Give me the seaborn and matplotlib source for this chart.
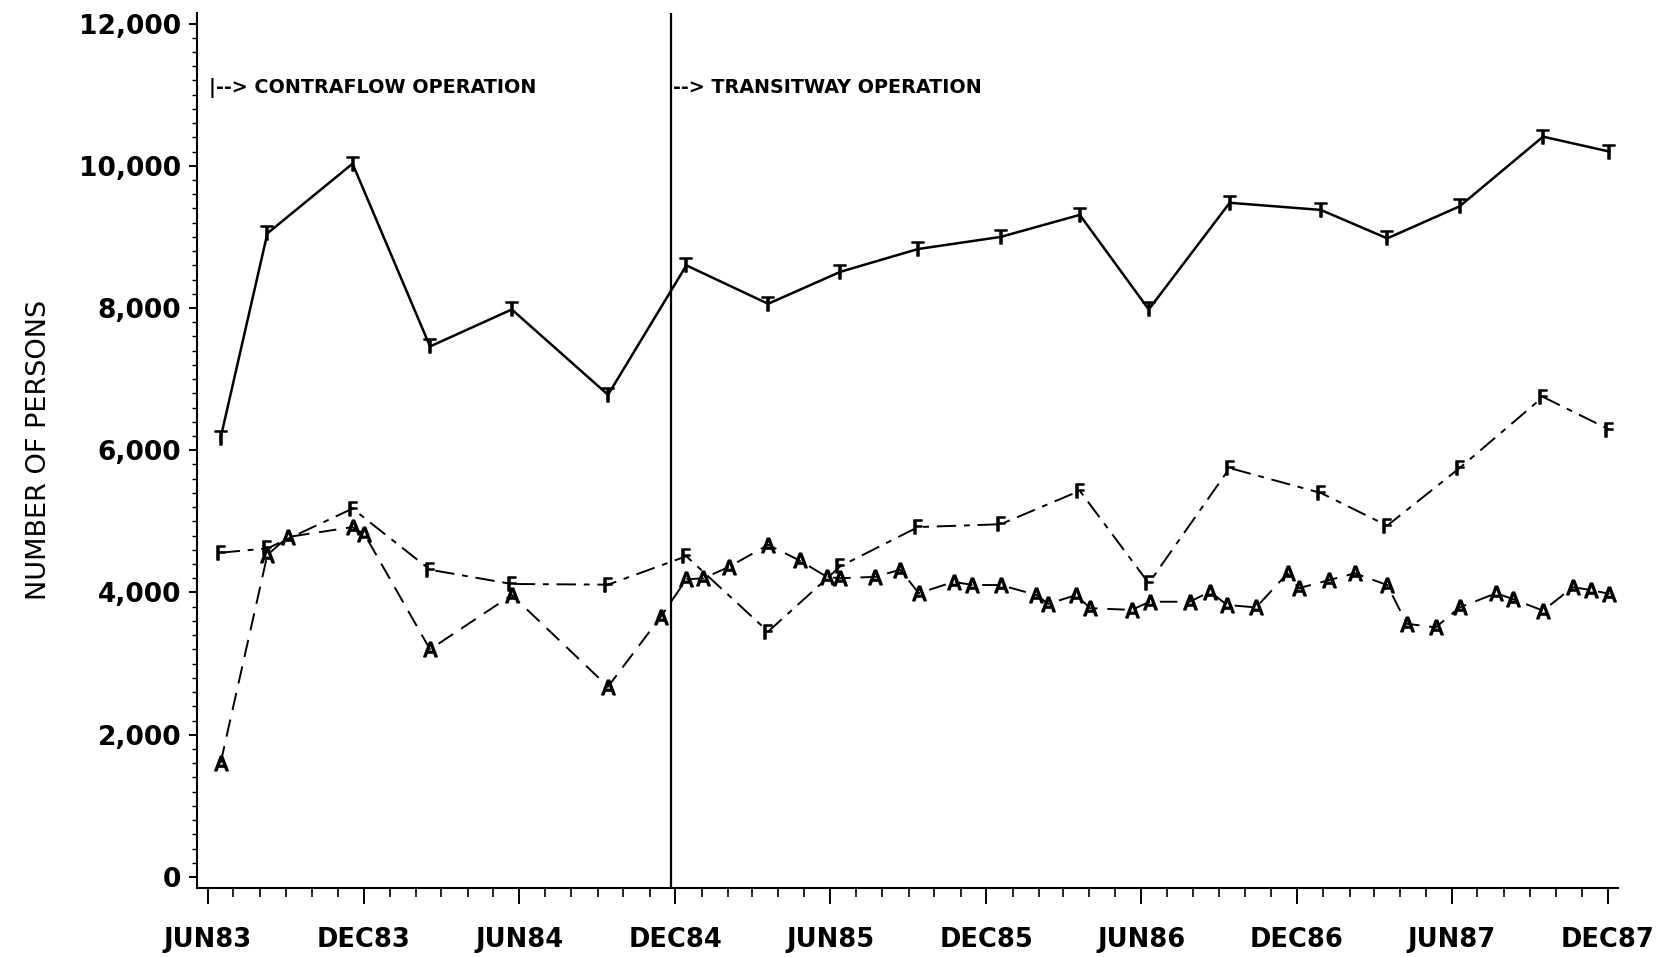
import pandas as pd
import numpy as np
import matplotlib
matplotlib.use("Agg")
import matplotlib.pyplot as plt
import matplotlib.dates as mdates
from matplotlib.ticker import FuncFormatter, MultipleLocator
import seaborn as sns

# survey dates and counts for total (T) and the F series
survey_dates = ['1983-06-16', '1983-08-10', '1983-11-18', '1984-02-17', '1984-05-23',
                '1984-09-13', '1984-12-14', '1985-03-20', '1985-06-13', '1985-09-12',
                '1985-12-18', '1986-03-21', '1986-06-10', '1986-09-13', '1986-12-29',
                '1987-03-17', '1987-06-10', '1987-09-16', '1987-12-03']
total_persons = [6170, 9050, 10030, 7460, 7980, 6780, 8600, 8060, 8510, 8830,
                 9000, 9310, 7980, 9480, 9380, 8980, 9430, 10410, 10200]
f_persons = [4560, 4620, 5180, 4320, 4120, 4110, 4510, 3450, 4370, 4920,
             4960, 5430, 4130, 5750, 5400, 4940, 5750, 6750, 6290]

# the A series was counted more often
a_dates = ['1983-06-16', '1983-08-10', '1983-09-03', '1983-11-18', '1983-12-02',
           '1984-02-17', '1984-05-23', '1984-09-13', '1984-11-14', '1984-12-14',
           '1985-01-03', '1985-02-02', '1985-03-20', '1985-04-26', '1985-05-28',
           '1985-06-12', '1985-07-24', '1985-08-22', '1985-09-13', '1985-10-24',
           '1985-11-15', '1985-12-18', '1986-01-29', '1986-02-12', '1986-03-17',
           '1986-04-02', '1986-05-21', '1986-06-11', '1986-07-28', '1986-08-21',
           '1986-09-10', '1986-10-14', '1986-11-20', '1986-12-03', '1987-01-08',
           '1987-02-07', '1987-03-17', '1987-04-09', '1987-05-13', '1987-06-10',
           '1987-07-23', '1987-08-12', '1987-09-16', '1987-10-21', '1987-11-11',
           '1987-12-03']
a_persons = [1600, 4530, 4780, 4920, 4820, 3200, 3965, 2675, 3660, 4185,
             4200, 4360, 4670, 4450, 4220, 4200, 4220, 4320, 3990, 4150,
             4105, 4105, 3965, 3840, 3965, 3780, 3755, 3870, 3870, 4010,
             3825, 3790, 4270, 4060, 4175, 4270, 4105, 3560, 3510, 3790,
             3990, 3905, 3745, 4075, 4035, 3980]

transitway_start = '1984-11-26'
labels = ['|--> CONTRAFLOW OPERATION', '--> TRANSITWAY OPERATION']

main = pd.DataFrame({'date': pd.to_datetime(survey_dates), 'T': total_persons, 'F': f_persons})
adf = pd.DataFrame({'date': pd.to_datetime(a_dates), 'A': a_persons})

sns.set_style("ticks", {'axes.edgecolor': 'black', 'text.color': 'black',
                        'axes.labelcolor': 'black', 'xtick.color': 'black',
                        'ytick.color': 'black'})
plt.rcParams['font.family'] = ['DejaVu Sans']

fig = plt.figure(figsize=(16.67, 9.57), dpi=100)
ax = fig.add_axes([0.118, 0.0725, 0.8526, 0.914])

mk = dict(markeredgecolor='black', markerfacecolor='black', markeredgewidth=1.1, markersize=10.5)
sns.lineplot(x='date', y='T', data=main, ax=ax, color='black', linewidth=1.8,
             marker=r'$\mathsf{T}$', **mk)
sns.lineplot(x='date', y='F', data=main, ax=ax, color='black', linewidth=1.4,
             linestyle=(0, (10, 4, 3, 4)), marker=r'$\mathsf{F}$', **mk)
sns.lineplot(x='date', y='A', data=adf, ax=ax, color='black', linewidth=1.4,
             linestyle=(0, (9, 5)), marker=r'$\mathsf{A}$', **mk)

vline = pd.Timestamp(transitway_start)
ax.axvline(vline, color='black', linewidth=1.6)
ax.text(pd.Timestamp('1983-06-03'), 11100, labels[0], fontsize=13.8, fontweight='bold',
        ha='left', va='center', color='black')
ax.text(vline + pd.Timedelta(days=2), 11100, labels[1], fontsize=13.8, fontweight='bold',
        ha='left', va='center', color='black')

ax.set_xlim(pd.Timestamp('1983-05-19'), pd.Timestamp('1987-12-13'))
ax.set_ylim(-150, 12150)

ax.xaxis.set_major_locator(mdates.MonthLocator(bymonth=[6, 12]))
ax.xaxis.set_minor_locator(mdates.MonthLocator())
ax.xaxis.set_major_formatter(FuncFormatter(lambda v, p: mdates.num2date(v).strftime('%b%y').upper()))
ax.yaxis.set_major_locator(MultipleLocator(2000))
ax.yaxis.set_minor_locator(MultipleLocator(200))
ax.yaxis.set_major_formatter(FuncFormatter(lambda v, p: f"{v:,.0f}"))

ax.tick_params(axis='x', which='major', length=11.5, width=1.4, pad=17, labelsize=18.5, colors='black')
ax.tick_params(axis='x', which='minor', length=6.5, width=1.2, colors='black')
ax.tick_params(axis='y', which='major', length=6, width=1.4, pad=5, labelsize=19, colors='black')
ax.tick_params(axis='y', which='minor', length=3.5, width=1.0, colors='black')
for lab in ax.get_xticklabels() + ax.get_yticklabels():
    lab.set_fontweight('bold')

sns.despine(ax=ax)
ax.spines['left'].set_linewidth(1.5)
ax.spines['bottom'].set_linewidth(1.5)

ax.set_xlabel('')
ax.set_ylabel('NUMBER OF PERSONS', fontsize=19.5, labelpad=20, color='black')

fig.savefig('out.png', dpi=100, facecolor='white')
